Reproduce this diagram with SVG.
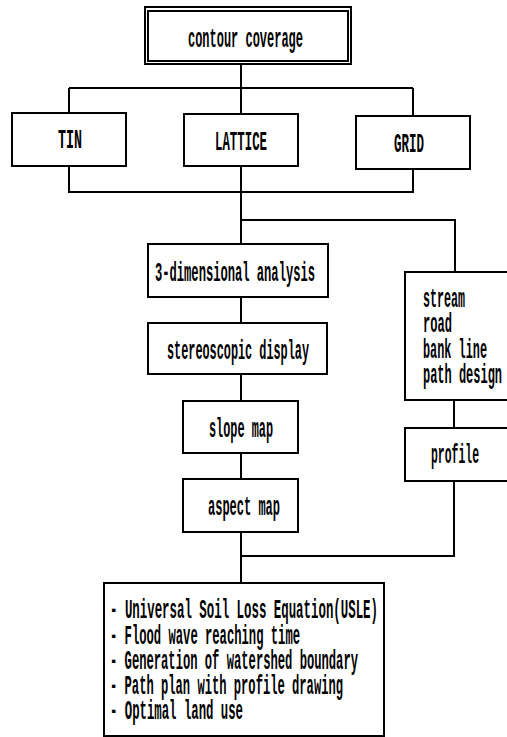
<svg xmlns="http://www.w3.org/2000/svg" width="507" height="737" viewBox="0 0 507 737">
<style>
.b{fill:#fff;stroke:#000;stroke-width:2}
.c{fill:none;stroke:#000;stroke-width:2}
text{font-family:"Liberation Mono","DejaVu Sans Mono",monospace;font-weight:bold;font-size:27px;fill:#000}
</style>
<rect width="507" height="737" fill="#fff"/>
<g id="connectors" class="c">
<path d="M241 64V88M69 88H413M69 88V113M241 88V114M413 88V116"/>
<path d="M69 166V192H413V169M241 166V244"/>
<path d="M241 220H455V272"/>
<path d="M241 297V323M241 374V401M241 453V479M241 532V583"/>
<path d="M454 400V428M454 481V556H241"/>
</g>
<g id="contour">
<rect class="b" x="145" y="7" width="206" height="57"/>
<rect class="b" x="148" y="11" width="200" height="50"/>
<text x="188" y="47" textLength="115" lengthAdjust="spacingAndGlyphs">contour coverage</text>
</g>
<g id="tin">
<rect class="b" x="12" y="113" width="114" height="53"/>
<text x="58" y="148" textLength="24" lengthAdjust="spacingAndGlyphs">TIN</text>
</g>
<g id="lattice">
<rect class="b" x="184" y="114" width="114" height="52"/>
<text x="215" y="150" textLength="52" lengthAdjust="spacingAndGlyphs">LATTICE</text>
</g>
<g id="grid">
<rect class="b" x="356" y="116" width="114" height="53"/>
<text x="394" y="152" textLength="30" lengthAdjust="spacingAndGlyphs">GRID</text>
</g>
<g id="analysis3d">
<rect class="b" x="148" y="244" width="180" height="53"/>
<text x="155" y="281" textLength="160" lengthAdjust="spacingAndGlyphs">3-dimensional analysis</text>
</g>
<g id="stereo">
<rect class="b" x="148" y="323" width="179" height="51"/>
<text x="167" y="359" textLength="142" lengthAdjust="spacingAndGlyphs">stereoscopic display</text>
</g>
<g id="slope">
<rect class="b" x="183" y="401" width="115" height="52"/>
<text x="209" y="437" textLength="64" lengthAdjust="spacingAndGlyphs">slope map</text>
</g>
<g id="aspect">
<rect class="b" x="183" y="479" width="115" height="53"/>
<text x="208" y="515" textLength="72" lengthAdjust="spacingAndGlyphs">aspect map</text>
</g>
<g id="stream">
<rect class="b" x="405" y="272" width="104" height="128"/>
<text x="423" y="307" textLength="42" lengthAdjust="spacingAndGlyphs">stream</text>
<text x="423" y="332" textLength="29" lengthAdjust="spacingAndGlyphs">road</text>
<text x="423" y="358" textLength="64" lengthAdjust="spacingAndGlyphs">bank line</text>
<text x="423" y="383" textLength="79" lengthAdjust="spacingAndGlyphs">path design</text>
</g>
<g id="profile">
<rect class="b" x="405" y="428" width="104" height="53"/>
<text x="431" y="463" textLength="48" lengthAdjust="spacingAndGlyphs">profile</text>
</g>
<g id="applications">
<rect class="b" x="104" y="583" width="280" height="153"/>
<text x="110" y="618" textLength="268" lengthAdjust="spacingAndGlyphs">- Universal Soil Loss Equation(USLE)</text>
<text x="110" y="644" textLength="190" lengthAdjust="spacingAndGlyphs">- Flood wave reaching time</text>
<text x="110" y="669" textLength="248" lengthAdjust="spacingAndGlyphs">- Generation of watershed boundary</text>
<text x="110" y="694" textLength="233" lengthAdjust="spacingAndGlyphs">- Path plan with profile drawing</text>
<text x="110" y="719" textLength="133" lengthAdjust="spacingAndGlyphs">- Optimal land use</text>
</g>
</svg>
